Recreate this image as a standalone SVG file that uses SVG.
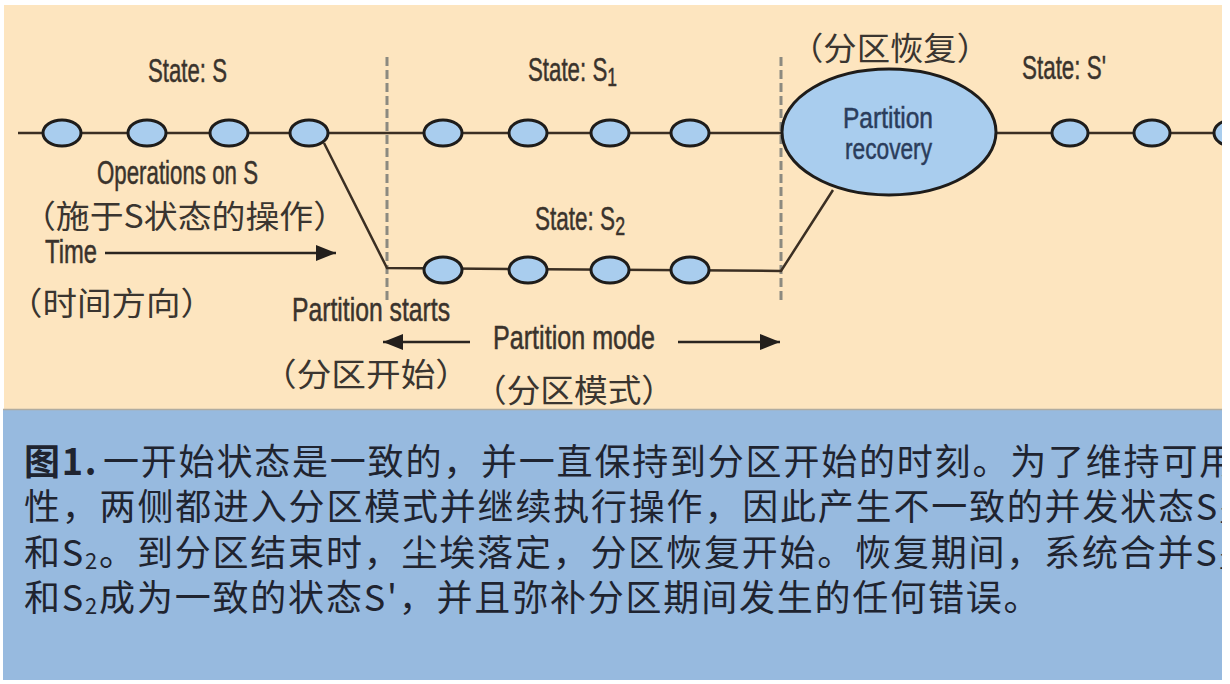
<svg xmlns="http://www.w3.org/2000/svg" width="1230" height="684" viewBox="0 0 1230 684">
<style>
.en{font-family:"Liberation Sans Narrow","Liberation Sans",Arial,sans-serif;font-size:33px;fill:#3a332c;stroke:#3a332c;stroke-width:0.5}
.in{font-family:"Liberation Sans Narrow","Liberation Sans",Arial,sans-serif;font-size:29px;fill:#2b3d5c;stroke:#2b3d5c;stroke-width:0.5}
.zh{font-family:"Noto Sans CJK SC",sans-serif;font-size:32px;fill:#3a3530}
.cap{font-family:"Noto Sans CJK SC",sans-serif;font-size:36px;fill:#1f2430;letter-spacing:1.8px}
.node{fill:#a9cdee;stroke:#1e1c1a;stroke-width:3}
.ln{stroke:#3b2f23;stroke-width:2.5;fill:none}
.dash{stroke:#8c8a80;stroke-width:3;stroke-dasharray:9 4;fill:none}
.arr{stroke:#2a2520;stroke-width:2.5;fill:none}
</style>
<defs>
<marker id="ah" viewBox="0 0 20 16" refX="20" refY="8" markerWidth="20" markerHeight="16" orient="auto" markerUnits="userSpaceOnUse"><path d="M0,0 L20,8 L0,16 z" fill="#231f1c"/></marker>
<clipPath id="clip"><rect x="0" y="0" width="1222" height="684"/></clipPath>
</defs>
<rect x="0" y="0" width="1230" height="684" fill="#ffffff"/>
<rect x="4" y="5" width="1218" height="405" fill="#fde5bf"/>
<rect x="3" y="409" width="1219" height="271" fill="#97badf"/>
<line x1="3" y1="409.5" x2="1222" y2="409.5" stroke="#b0aca0" stroke-width="1.5"/>

<g clip-path="url(#clip)">
<g id="connectors">
<line class="dash" x1="387" y1="57" x2="387" y2="300"/>
<line class="dash" x1="781" y1="57" x2="781" y2="300"/>
<line class="ln" x1="18" y1="133" x2="782" y2="133"/>
<line class="ln" x1="997" y1="133" x2="1230" y2="133"/>
<polyline class="ln" points="324,143 387,268 781,271 833,190"/>
<line class="arr" x1="105" y1="253" x2="336" y2="253" marker-end="url(#ah)"/>
<line class="arr" x1="470" y1="342" x2="383" y2="342" marker-end="url(#ah)"/>
<line class="arr" x1="678" y1="342" x2="780" y2="342" marker-end="url(#ah)"/>
</g>

<g id="node-s1"><ellipse class="node" cx="62" cy="133" rx="19" ry="13"/></g>
<g id="node-s2"><ellipse class="node" cx="147" cy="133" rx="19" ry="13"/></g>
<g id="node-s3"><ellipse class="node" cx="229" cy="133" rx="19" ry="13"/></g>
<g id="node-s4"><ellipse class="node" cx="309" cy="133" rx="19" ry="13"/></g>
<g id="node-a1"><ellipse class="node" cx="443" cy="133" rx="19" ry="13"/></g>
<g id="node-a2"><ellipse class="node" cx="528" cy="133" rx="19" ry="13"/></g>
<g id="node-a3"><ellipse class="node" cx="610" cy="133" rx="19" ry="13"/></g>
<g id="node-a4"><ellipse class="node" cx="690" cy="133" rx="19" ry="13"/></g>
<g id="node-b1"><ellipse class="node" cx="443" cy="270" rx="19" ry="13"/></g>
<g id="node-b2"><ellipse class="node" cx="528" cy="270" rx="19" ry="13"/></g>
<g id="node-b3"><ellipse class="node" cx="610" cy="270" rx="19" ry="13"/></g>
<g id="node-b4"><ellipse class="node" cx="690" cy="270" rx="19" ry="13"/></g>
<g id="node-c1"><ellipse class="node" cx="1070" cy="133" rx="18" ry="13"/></g>
<g id="node-c2"><ellipse class="node" cx="1152" cy="133" rx="18" ry="13"/></g>
<g id="node-c3"><ellipse class="node" cx="1232" cy="133" rx="18" ry="13"/></g>

<g id="node-recovery">
<ellipse class="node" cx="889" cy="132" rx="107" ry="63"/>
<text class="in" x="843" y="128" textLength="90" lengthAdjust="spacingAndGlyphs">Partition</text>
<text class="in" x="845" y="159" textLength="87" lengthAdjust="spacingAndGlyphs">recovery</text>
</g>

<g id="labels">
<text class="en" x="148" y="82" textLength="79" lengthAdjust="spacingAndGlyphs">State: S</text>
<text class="en" x="528" y="81" textLength="89" lengthAdjust="spacingAndGlyphs">State: S<tspan font-size="26" dy="5">1</tspan></text>
<text class="en" x="535" y="230" textLength="90" lengthAdjust="spacingAndGlyphs">State: S<tspan font-size="26" dy="5">2</tspan></text>
<text class="en" x="1022" y="79" textLength="84" lengthAdjust="spacingAndGlyphs">State: S'</text>
<text class="en" x="97" y="184" textLength="161" lengthAdjust="spacingAndGlyphs">Operations on S</text>
<text class="en" x="45" y="263" textLength="52" lengthAdjust="spacingAndGlyphs">Time</text>
<text class="en" x="292" y="321" textLength="158" lengthAdjust="spacingAndGlyphs">Partition starts</text>
<text class="en" x="493" y="349" textLength="162" lengthAdjust="spacingAndGlyphs">Partition mode</text>
<text class="zh" x="790" y="60" textLength="200" lengthAdjust="spacingAndGlyphs">（分区恢复）</text>
<text class="zh" x="22" y="228" textLength="325" lengthAdjust="spacingAndGlyphs">（施于S状态的操作）</text>
<text class="zh" x="8" y="315" textLength="207" lengthAdjust="spacingAndGlyphs">（时间方向）</text>
<text class="zh" x="262" y="386" textLength="208" lengthAdjust="spacingAndGlyphs">（分区开始）</text>
<text class="zh" x="473" y="402" textLength="202" lengthAdjust="spacingAndGlyphs">（分区模式）</text>
</g>

<g id="caption">
<text class="cap" x="24" y="475" font-weight="bold">图1.</text>
<text class="cap" x="103" y="475">一开始状态是一致的，并一直保持到分区开始的时刻。为了维持可用</text>
<text class="cap" x="24" y="520">性，两侧都进入分区模式并继续执行操作，因此产生不一致的并发状态S<tspan font-size="22" dy="3">1</tspan></text>
<text class="cap" x="24" y="566">和S<tspan font-size="22" dy="3">2</tspan><tspan dy="-3">。到分区结束时，尘埃落定，分区恢复开始。恢复期间，系统合并S</tspan><tspan font-size="22" dy="3">1</tspan></text>
<text class="cap" x="24" y="611">和S<tspan font-size="22" dy="3">2</tspan><tspan dy="-3">成为一致的状态S'，并且弥补分区期间发生的任何错误。</tspan></text>
</g>
</g>
</svg>
